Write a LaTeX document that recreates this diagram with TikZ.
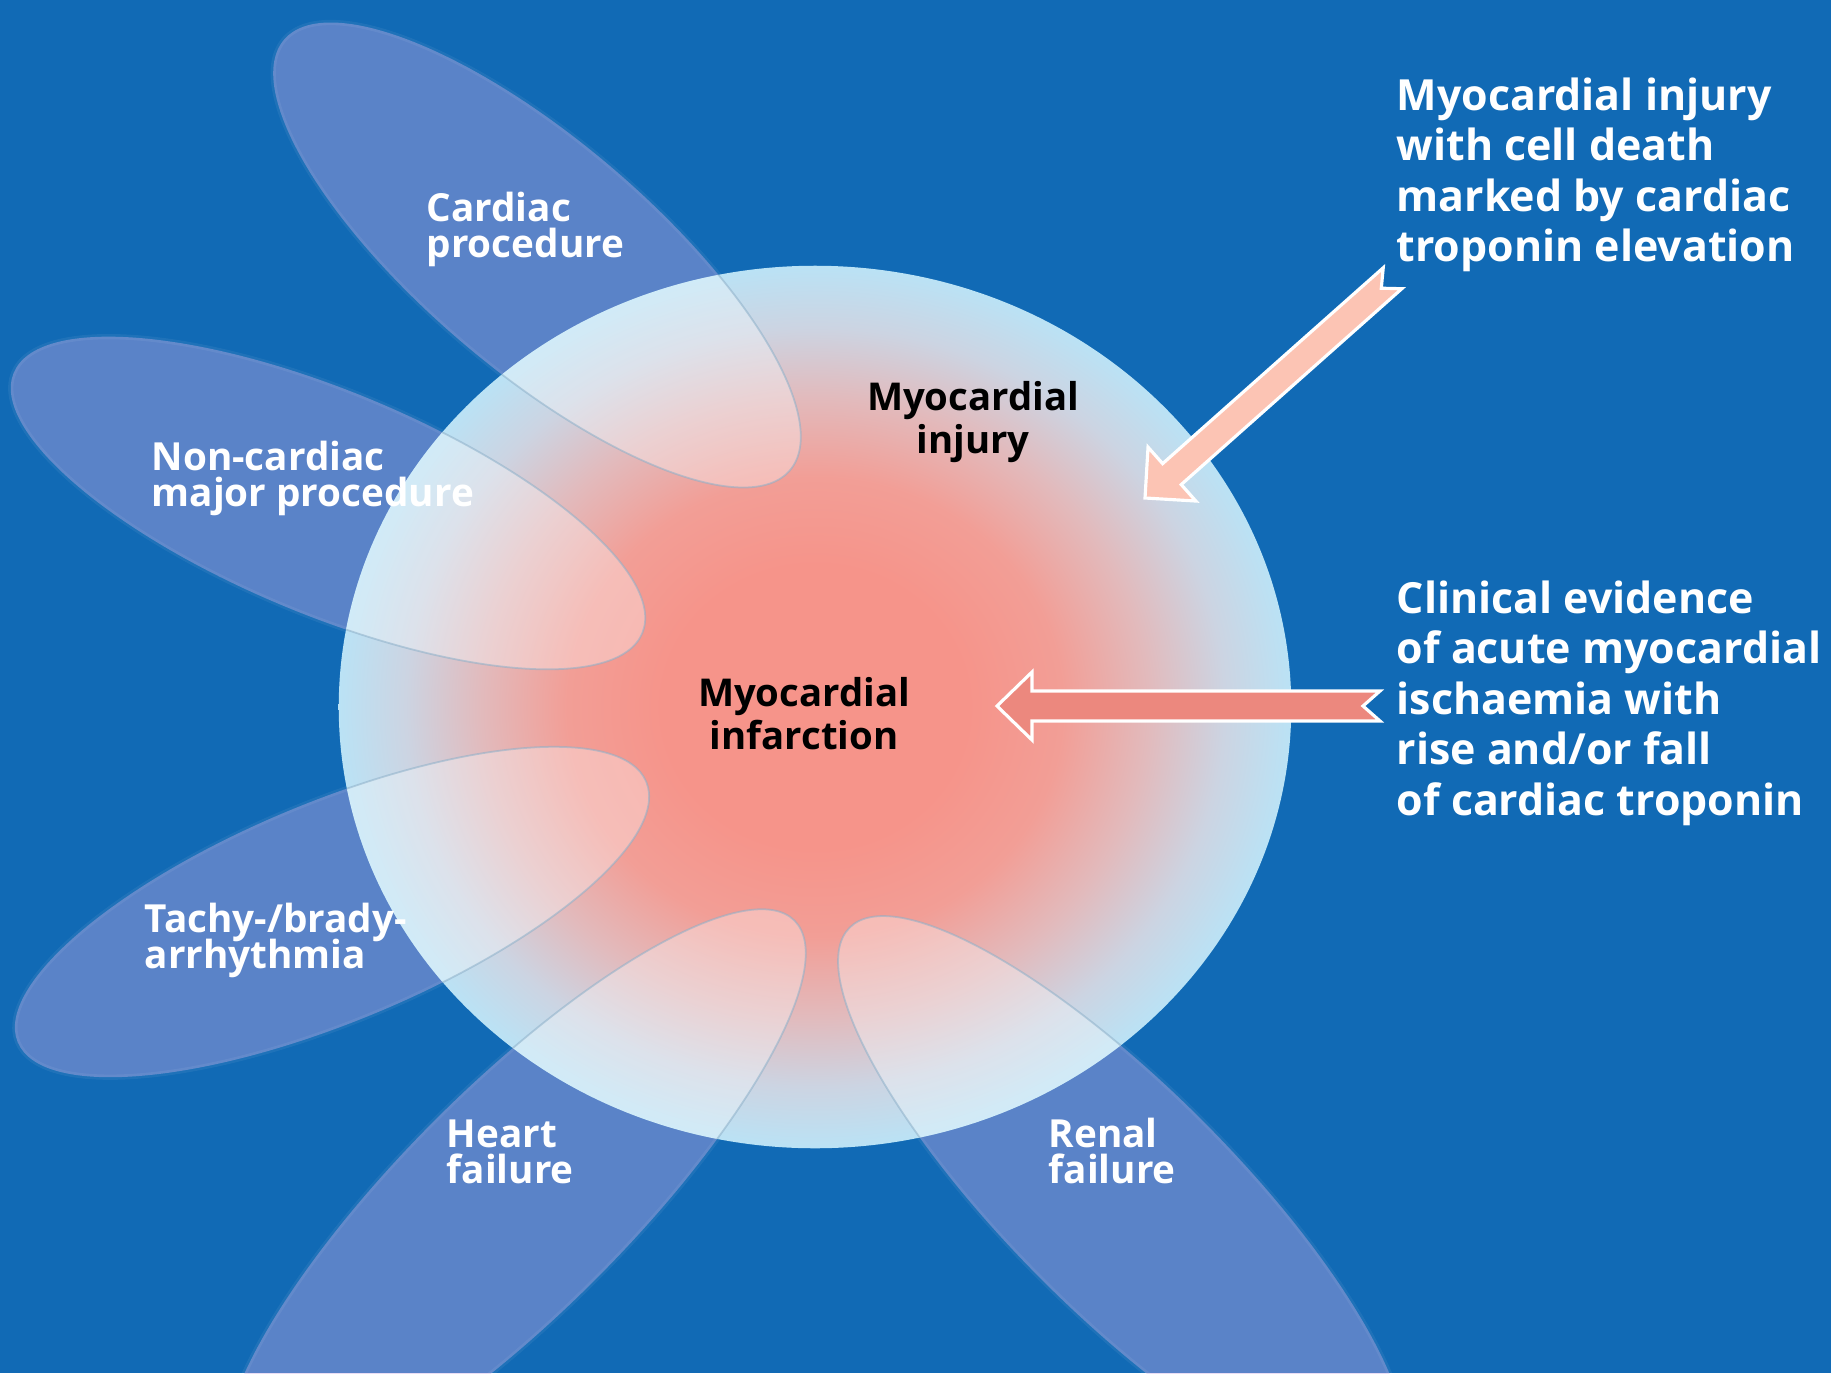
\documentclass[tikz,border=0pt]{standalone}
\usepackage{fontspec}
\setmainfont{Open Sans}
\usetikzlibrary{calc}
\definecolor{bgblue}{RGB}{17,106,181}
\definecolor{petalc}{RGB}{200,170,230}
\definecolor{sal}{RGB}{246,148,138}
\definecolor{salb}{RGB}{242,158,150}
\definecolor{midp}{RGB}{226,186,188}
\definecolor{grayb}{RGB}{204,212,226}
\definecolor{rim}{RGB}{186,226,245}
\definecolor{arrowpeach}{RGB}{252,196,180}
\definecolor{arrowsal}{RGB}{236,136,126}
\definecolor{petline}{RGB}{140,175,200}
\newcommand\tightlines{\lineskiplimit=-100pt\relax\lineskip=0pt\relax}
\pgfdeclareradialshading{mishade}{\pgfpoint{0bp}{0bp}}{color(0bp)=(sal); color(8bp)=(sal); color(13bp)=(salb); color(17.5bp)=(midp); color(21.5bp)=(grayb); color(25bp)=(rim); color(50bp)=(rim)}
\tikzset{
  petalout/.style={fill=petalc, fill opacity=0.4, draw=white, draw opacity=0.06, line width=1.5pt},
  petalin/.style={fill=white, fill opacity=0.33, draw=petline, draw opacity=0.55, line width=0.5pt},
  whitelabel/.style={text=white, font=\fontsize{11}{10.4}\selectfont\bfseries\tightlines, align=left, anchor=north west, inner sep=0pt},
  rightlabel/.style={text=white, font=\fontsize{12.2}{14.37}\selectfont\bfseries, align=left, anchor=north west, inner sep=0pt},
  blacklabel/.style={text=black, font=\fontsize{10.9}{12}\selectfont\bfseries, align=center, anchor=north, inner sep=0pt},
  blockarrow/.style={draw=white, line width=0.9pt, line join=miter},
}
\begin{document}
\begin{tikzpicture}[x=0.01cm, y=-0.01cm]
\useasboundingbox (0,0) rectangle (1831,1373);
\clip (0,0) rectangle (1831,1373);
\fill[bgblue] (0,0) rectangle (1831,1373);
% petals outside the circle
\foreach \cx/\cy/\ang/\ra/\rb in {537/255/-40.4/3.32/1.15, 328/503/-22.5/3.40/1.12, 332/912/22.5/3.40/1.10, 515/1200/45/3.95/1.13, 1122/1200/-45/3.85/1.13}
  \path[petalout, rotate around={\ang:(\cx,\cy)}] (\cx,\cy) ellipse [x radius=\ra cm, y radius=\rb cm];
% central disc
\coordinate (ctr) at (815,707);
\shade[shading=mishade] (ctr) ellipse [x radius=4.76cm, y radius=4.41cm];
% petals inside the circle
\begin{scope}
  \clip (ctr) ellipse [x radius=4.76cm, y radius=4.41cm];
  \foreach \cx/\cy/\ang/\ra/\rb in {537/255/-40.4/3.32/1.15, 328/503/-22.5/3.40/1.12, 332/912/22.5/3.40/1.10, 515/1200/45/3.95/1.13, 1122/1200/-45/3.85/1.13}
    \path[petalin, rotate around={\ang:(\cx,\cy)}] (\cx,\cy) ellipse [x radius=\ra cm, y radius=\rb cm];
\end{scope}
% arrows
\coordinate (a1tip) at (1145,498);
\coordinate (a2tip) at (997,706);
\begin{scope}[shift={(a1tip)}, rotate=41.6]
  \fill[arrowpeach] (0,0) -- (36,36) -- (36,14) -- (331,14) -- (316,0) -- (331,-14) -- (36,-14) -- (36,-36) -- cycle;
  \draw[blockarrow] (0,0) -- (36,36) -- (36,14) -- (331,14) -- (316,0) -- (331,-14) -- (36,-14) -- (36,-36) -- cycle;
\end{scope}
\begin{scope}[shift={(a2tip)}]
  \fill[arrowsal] (0,0) -- (35,34) -- (35,15) -- (383,15) -- (366,0) -- (383,-15) -- (35,-15) -- (35,-34) -- cycle;
  \draw[blockarrow] (0,0) -- (35,34) -- (35,15) -- (383,15) -- (366,0) -- (383,-15) -- (35,-15) -- (35,-34) -- cycle;
\end{scope}
% texts
\node[rightlabel] (injdef) at (1396,77) {Myocardial injury\\with cell death\\marked by cardiac\\troponin elevation};
\node[rightlabel] (midef) at (1396,580) {Clinical evidence\\of acute myocardial\\ischaemia with\\rise and/or fall\\of cardiac troponin};
\node[blacklabel] (inj) at (973,381) {Myocardial\\injury};
\node[blacklabel] (mi) at (804,677) {Myocardial\\infarction};
\node[whitelabel] (cardiac) at (426,191) {Cardiac\\procedure};
\node[whitelabel] (noncard) at (151,440) {Non-cardiac\\major procedure};
\node[whitelabel] (tachy) at (144,902) {Tachy-/brady-\\arrhythmia};
\node[whitelabel] (heart) at (446,1119) {Heart\\failure};
\node[whitelabel] (renal) at (1048,1117) {Renal\\failure};
\end{tikzpicture}
\end{document}
